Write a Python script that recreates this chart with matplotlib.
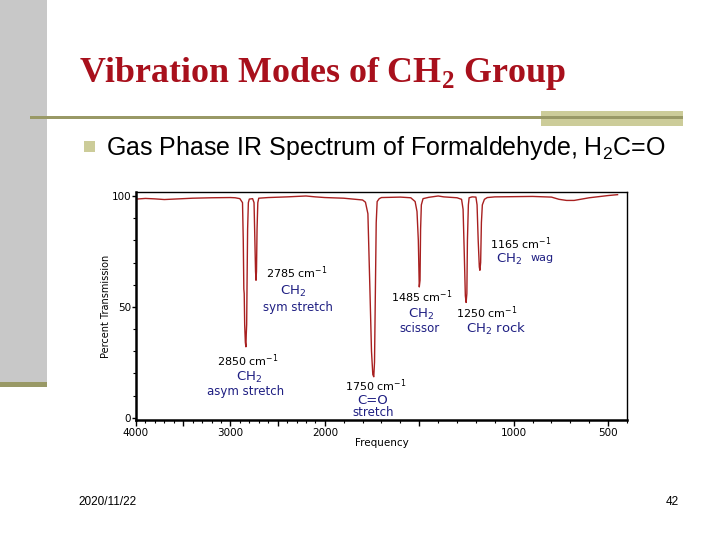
import numpy as np
import matplotlib
matplotlib.use("Agg")
import matplotlib.pyplot as plt
from matplotlib.patches import Rectangle
from matplotlib.ticker import FixedLocator, FixedFormatter

plt.rcParams["mathtext.fontset"] = "custom"
plt.rcParams["mathtext.rm"] = "DejaVu Sans"
plt.rcParams["mathtext.bf"] = "Liberation Serif:bold"
plt.rcParams["mathtext.sf"] = "Liberation Sans"

# spectrum: wavenumber (cm-1) vs percent transmission
wavenumber = [
    4000, 3900, 3800, 3700, 3600, 3400, 3200, 3000, 2950, 2900,
    2872, 2864, 2858, 2854, 2849, 2842, 2836, 2832, 2828, 2824, 2818, 2810, 2800,
    2765, 2750, 2741, 2734, 2729, 2724, 2718, 2710, 2700,
    2600, 2400, 2300, 2200, 2100, 2000, 1900, 1850,
    1800, 1785, 1772, 1762, 1753, 1746, 1741, 1737, 1732, 1728, 1723, 1712,
    1700, 1600, 1545,
    1522, 1512, 1505, 1500, 1496, 1493, 1489, 1480,
    1450, 1400, 1370, 1300,
    1276, 1268, 1262, 1256, 1252, 1248, 1245, 1240, 1236,
    1220, 1200, 1194, 1188, 1182, 1179, 1175, 1171, 1166, 1155, 1140,
    1100, 1000, 900, 800, 760, 720, 680, 640, 600, 550, 500, 450,
]
transmission = [
    98.6, 98.9, 98.7, 98.4, 98.6, 99.0, 99.2, 99.3, 99.2, 98.8,
    97.0, 80.0, 58.0, 56.0, 42.0, 34.0, 32.0, 38.0, 42.0, 60.0, 85.0, 97.0, 98.6,
    98.8, 97.0, 80.0, 66.0, 62.0, 66.0, 85.0, 97.0, 99.0,
    99.3, 99.6, 99.8, 100.0, 99.6, 99.3, 99.0, 98.6,
    98.2, 97.2, 92.0, 60.0, 30.0, 19.5, 18.5, 25.0, 60.0, 88.0, 97.5, 98.8,
    99.3, 99.5, 99.2,
    97.5, 93.0, 80.0, 59.0, 62.0, 85.0, 96.0, 98.8,
    99.4, 100.0, 99.6, 99.2,
    98.5, 94.0, 75.0, 55.0, 52.0, 56.0, 80.0, 96.0, 99.2,
    99.6, 99.5, 96.0, 80.0, 68.0, 66.5, 70.0, 88.0, 96.0, 98.5, 99.3,
    99.6, 99.7, 99.8, 99.5, 98.5, 98.0, 98.0, 98.6, 99.2, 99.7, 100.2, 100.6,
]

x_ticks = [4000, 3500, 3000, 2500, 2000, 1500, 1000, 500]
x_tick_labels = ["4000", "", "3000", "", "2000", "", "1000", "500"]
y_ticks = [0, 50, 100]

RED = "#a82020"
NAVY = "#1e1e82"
OLIVE = "#999966"
OLIVE_LIGHT = "#cccc99"
GRAY = "#c8c8c8"
W, H = 720, 540


def fx(x):
    return x / W


def fy(y):
    return 1 - y / H


def fwd(x):
    x = np.asarray(x, dtype=float)
    return np.where(x > 2000, 2000 + (x - 2000) / 2, x)


def inv(y):
    y = np.asarray(y, dtype=float)
    return np.where(y > 2000, 2000 + 2 * (y - 2000), y)


fig = plt.figure(figsize=(7.2, 5.4), dpi=100)

# slide decoration
fig.add_artist(Rectangle((0, fy(382)), fx(47), 1 - fy(382), transform=fig.transFigure,
                         facecolor=GRAY, edgecolor="none"))
fig.add_artist(Rectangle((0, fy(387)), fx(47), fy(382) - fy(387), transform=fig.transFigure,
                         facecolor=OLIVE, edgecolor="none"))
fig.add_artist(Rectangle((fx(541), fy(126)), fx(142), fy(111) - fy(126), transform=fig.transFigure,
                         facecolor=OLIVE_LIGHT, edgecolor="none"))
fig.add_artist(Rectangle((fx(30), fy(119)), fx(653), fy(116) - fy(119), transform=fig.transFigure,
                         facecolor=OLIVE, edgecolor="none"))
fig.add_artist(Rectangle((fx(84), fy(152)), fx(11), fy(141) - fy(152), transform=fig.transFigure,
                         facecolor=OLIVE_LIGHT, edgecolor="none"))

fig.text(fx(79), fy(82), r"Vibration Modes of CH$_\mathbf{2}$ Group", family="Liberation Serif",
         weight="bold", fontsize=25.8, color="#a8101c", va="baseline", ha="left")
fig.text(fx(106), fy(155), r"Gas Phase IR Spectrum of Formaldehyde, H$_\mathsf{2}$C=O",
         family="Liberation Sans", fontsize=18, color="black",
         va="baseline", ha="left")
fig.text(fx(78), fy(502), "2020/11/22", family="Liberation Sans", fontsize=8.5,
         va="center", ha="left")
fig.text(fx(672), fy(502), "42", family="Liberation Sans", fontsize=8.5,
         va="center", ha="center")

# spectrum
ax = fig.add_axes([fx(136), fy(420), fx(627) - fx(136), fy(192) - fy(420)])
ax.set_xscale("function", functions=(fwd, inv))
ax.plot(wavenumber, transmission, color=RED, lw=1.0)
ax.set_xlim(4000, 400)
ax.set_ylim(-1, 101.8)

ax.xaxis.set_major_locator(FixedLocator(x_ticks))
ax.xaxis.set_major_formatter(FixedFormatter(x_tick_labels))
ax.xaxis.set_minor_locator(FixedLocator(np.arange(400, 4001, 100)))
ax.yaxis.set_major_locator(FixedLocator(y_ticks))
ax.yaxis.set_minor_locator(FixedLocator(np.arange(0, 101, 10)))
ax.tick_params(axis="x", which="major", direction="out", length=4, width=1,
               labelsize=7.5, pad=1.5)
ax.tick_params(axis="y", which="major", direction="out", length=3, width=1,
               labelsize=7.5, pad=0.5)
ax.tick_params(which="minor", direction="out", length=2.5, width=0.8)

for side in ["left", "bottom"]:
    ax.spines[side].set_linewidth(1.8)
for side in ["top", "right"]:
    ax.spines[side].set_linewidth(1.0)

ax.set_ylabel("Percent Transmission", fontsize=7, labelpad=0.5)
ax.set_xlabel("Frequency", fontsize=7.5, labelpad=0)


def label(x, y, text, size=8, color="black"):
    fig.text(fx(x), fy(y), text, fontsize=size, color=color, ha="center", va="center")


label(297, 273, r"2785 cm$^{-1}$")
label(293, 291, r"CH$_2$", 9.5, NAVY)
label(298, 307, "sym stretch", 8.5, NAVY)

label(248, 361, r"2850 cm$^{-1}$")
label(249, 377, r"CH$_2$", 9.5, NAVY)
label(246, 391, "asym stretch", 8.5, NAVY)

label(376, 386, r"1750 cm$^{-1}$")
label(373, 400, "C=O", 9.5, NAVY)
label(373, 412, "stretch", 8.5, NAVY)

label(422, 297, r"1485 cm$^{-1}$")
label(421, 314, r"CH$_2$", 9.5, NAVY)
label(420, 329, "scissor", 8.5, NAVY)

label(487, 313, r"1250 cm$^{-1}$")
label(496, 329, r"CH$_2$ rock", 9.5, NAVY)

label(521, 244, r"1165 cm$^{-1}$")
label(509, 259, r"CH$_2$", 9.5, NAVY)
label(542, 258, "wag", 8, NAVY)

fig.savefig("out.png", dpi=100)
